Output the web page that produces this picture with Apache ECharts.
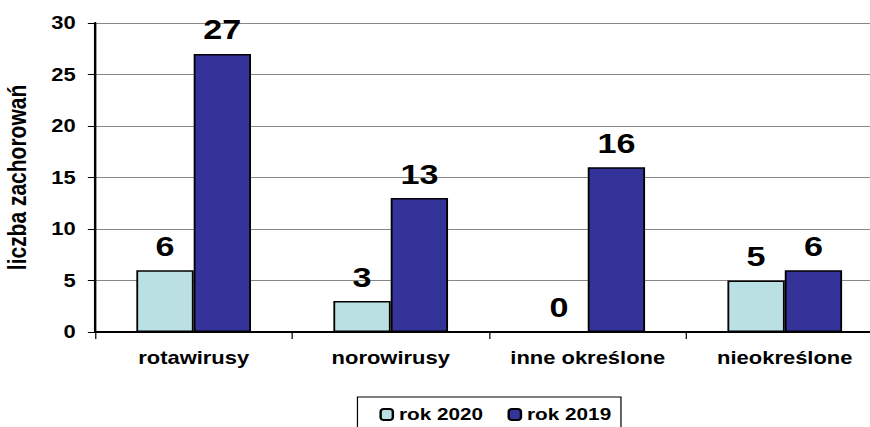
<!DOCTYPE html>
<html>
<head>
<meta charset="utf-8">
<script src="https://cdn.jsdelivr.net/npm/echarts@6/dist/echarts.min.js"></script>
<style>
  html, body { margin: 0; padding: 0; background: #fff; width: 870px; height: 427px; overflow: hidden; }
  /* the reference is stretched horizontally, so draw narrower and scale */
  #chart { width: 740px; height: 427px; transform: scaleX(1.22); transform-origin: 0 0; }
</style>
</head>
<body>
<div id="chart"></div>
<script>
const categories = ['rotawirusy', 'norowirusy', 'inne określone', 'nieokreślone']
const rok2020 = [6, 3, 0, 5]
const rok2019 = [27, 13, 16, 6]
const yTicks = { min: 0, max: 30, interval: 5 }

const chart = echarts.init(document.getElementById('chart'), null, { renderer: 'svg' })
const font = 'Liberation Sans, Arial, sans-serif'

const barLabel = {
  show: true,
  position: 'top',
  distance: 10,
  color: '#000',
  fontSize: 28,
  fontWeight: 'bold',
  fontFamily: font
}

const option = {
  animation: false,
  grid: { left: 78, top: 23, width: 646, height: 309, outerBoundsMode: 'none' },
  legend: {
    left: 293,
    top: 397,
    itemWidth: 10,
    itemHeight: 11,
    itemGap: 20,
    padding: [9, 8, 20, 18],
    borderColor: '#000',
    borderWidth: 1,
    textStyle: { color: '#000', fontSize: 17, fontWeight: 'bold', fontFamily: font },
    data: ['rok 2020', 'rok 2019']
  },
  xAxis: {
    type: 'category',
    data: categories,
    axisLine: { lineStyle: { color: '#000', width: 2 } },
    axisTick: { show: true, length: 7, lineStyle: { color: '#000' } },
    axisLabel: { interval: 0, color: '#000', fontSize: 18, fontWeight: 'bold', fontFamily: font, margin: 17 }
  },
  yAxis: {
    type: 'value',
    min: yTicks.min,
    max: yTicks.max,
    interval: yTicks.interval,
    name: 'liczba zachorowań',
    nameLocation: 'middle',
    nameGap: 53,
    nameTextStyle: { color: '#000', fontSize: 21, fontWeight: 'bold', fontFamily: font },
    axisLine: { show: true, lineStyle: { color: '#000', width: 2 } },
    axisTick: { show: true, length: 6, lineStyle: { color: '#000' } },
    axisLabel: { color: '#000', fontSize: 18, fontWeight: 'bold', fontFamily: font, margin: 16 },
    splitLine: { lineStyle: { color: '#888', width: 1 } }
  },
  series: [
    {
      name: 'rok 2020',
      type: 'bar',
      barWidth: 47,
      barGap: '0%',
      data: rok2020,
      itemStyle: { color: '#BBE0E3', borderColor: '#000', borderWidth: 1.5 },
      label: barLabel
    },
    {
      name: 'rok 2019',
      type: 'bar',
      barWidth: 47,
      barGap: '0%',
      data: rok2019,
      itemStyle: { color: '#333399', borderColor: '#000', borderWidth: 1.5 },
      label: barLabel
    }
  ]
}

chart.setOption(option)
</script>
</body>
</html>
